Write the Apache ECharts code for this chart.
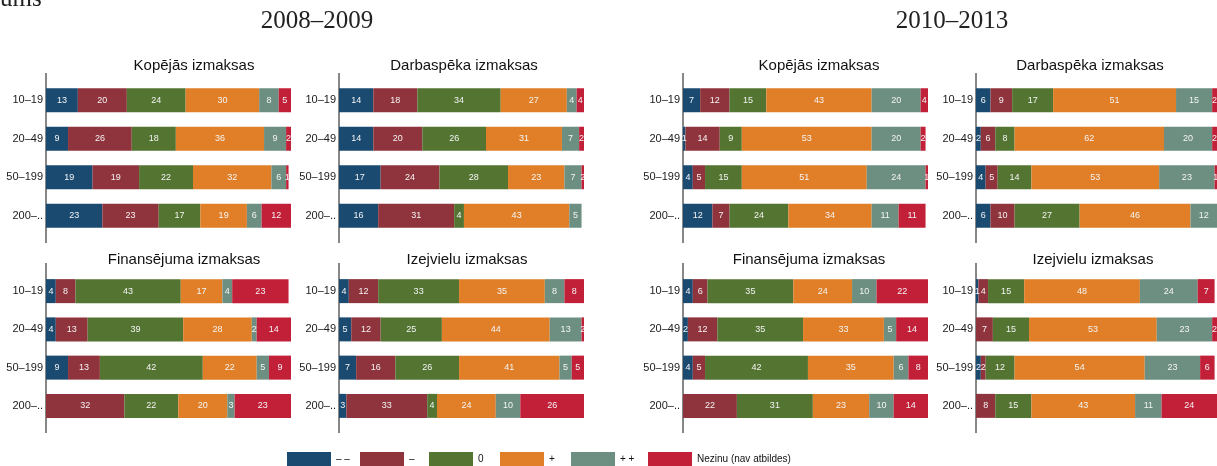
<!DOCTYPE html>
<html>
<head>
<meta charset="utf-8">
<script src="https://cdn.jsdelivr.net/npm/echarts@6/dist/echarts.min.js"></script>
<style>
  html, body { margin: 0; padding: 0; background: #fff; }
  #chart { width: 1217px; height: 466px; }
</style>
</head>
<body>
<div id="chart"></div>
<script>
const sizes = ['10–19', '20–49', '50–199', '200–..']
const answers = ['– –', '–', '0', '+', '+ +', 'Nezinu (nav atbildes)']
const colors = ['#1b4a71', '#8f343c', '#547432', '#e07f28', '#6d8f82', '#c21f38']

// rows = size groups, columns = answers
const kopejas0809 = [[13, 20, 24, 30, 8, 5], [9, 26, 18, 36, 9, 2], [19, 19, 22, 32, 6, 1], [23, 23, 17, 19, 6, 12]]
const darbaspeka0809 = [[14, 18, 34, 27, 4, 4], [14, 20, 26, 31, 7, 2], [17, 24, 28, 23, 7, 2], [16, 31, 4, 43, 5, 0]]
const finansejuma0809 = [[4, 8, 43, 17, 4, 23], [4, 13, 39, 28, 2, 14], [9, 13, 42, 22, 5, 9], [0, 32, 22, 20, 3, 23]]
const izejvielu0809 = [[4, 12, 33, 35, 8, 8], [5, 12, 25, 44, 13, 2], [7, 16, 26, 41, 5, 5], [3, 33, 4, 24, 10, 26]]
const kopejas1013 = [[7, 12, 15, 43, 20, 4], [1, 14, 9, 53, 20, 2], [4, 5, 15, 51, 24, 1], [12, 7, 24, 34, 11, 11]]
const darbaspeka1013 = [[6, 9, 17, 51, 15, 2], [2, 6, 8, 62, 20, 2], [4, 5, 14, 53, 23, 1], [6, 10, 27, 46, 12, 0]]
const finansejuma1013 = [[4, 6, 35, 24, 10, 22], [2, 12, 35, 33, 5, 14], [4, 5, 42, 35, 6, 8], [0, 22, 31, 23, 10, 14]]
const izejvielu1013 = [[1, 4, 15, 48, 24, 7], [0, 7, 15, 53, 23, 2], [2, 2, 12, 54, 23, 6], [0, 8, 15, 43, 11, 24]]

const SANS = 'Liberation Sans, Arial, sans-serif'
const SERIF = 'Liberation Serif, Times New Roman, serif'

// layout of the 8 small panels
const panels = [
  { title: 'Kopējās izmaksas', rows: kopejas0809, left: 46, row: 0, tx: 194 },
  { title: 'Darbaspēka izmaksas', rows: darbaspeka0809, left: 339, row: 0, tx: 464 },
  { title: 'Finansējuma izmaksas', rows: finansejuma0809, left: 46, row: 1, tx: 184 },
  { title: 'Izejvielu izmaksas', rows: izejvielu0809, left: 339, row: 1, tx: 467 },
  { title: 'Kopējās izmaksas', rows: kopejas1013, left: 683, row: 0, tx: 819 },
  { title: 'Darbaspēka izmaksas', rows: darbaspeka1013, left: 976, row: 0, tx: 1090 },
  { title: 'Finansējuma izmaksas', rows: finansejuma1013, left: 683, row: 1, tx: 809 },
  { title: 'Izejvielu izmaksas', rows: izejvielu1013, left: 976, row: 1, tx: 1093 },
]
const rowLayout = [
  { top: 81, height: 154, lineTop: 73, lineBottom: 243, titleY: 66 },
  { top: 272, height: 153, lineTop: 263, lineBottom: 433, titleY: 260 },
]
const legendLeft = [287, 360, 429, 500, 571, 648]

const grid = []
const xAxis = []
const yAxis = []
const series = []
const graphic = [
  { type: 'text', left: 0, top: -13, style: { text: 'ums', font: '25px ' + SERIF, fill: '#222' } },
  { type: 'text', x: 317, y: 21.5, style: { text: '2008–2009', font: '25px ' + SERIF, fill: '#222', align: 'center', verticalAlign: 'middle' } },
  { type: 'text', x: 952, y: 21.5, style: { text: '2010–2013', font: '25px ' + SERIF, fill: '#222', align: 'center', verticalAlign: 'middle' } },
]

panels.forEach((p, i) => {
  const r = rowLayout[p.row]
  grid.push({ left: p.left, width: 245, top: r.top, height: r.height })
  xAxis.push({ gridIndex: i, type: 'value', min: 0, max: 100, show: false })
  yAxis.push({
    gridIndex: i,
    type: 'category',
    data: sizes,
    inverse: true,
    axisLine: { show: false },
    axisTick: { show: false },
    axisLabel: { margin: 3, fontSize: 11, color: '#1a1a1a', fontFamily: SANS },
  })
  answers.forEach((name, k) => {
    series.push({
      type: 'bar',
      name,
      xAxisIndex: i,
      yAxisIndex: i,
      stack: 'panel' + i,
      barWidth: 24,
      itemStyle: { color: colors[k] },
      label: {
        show: true,
        position: 'inside',
        color: '#f4f4f4',
        fontSize: 9,
        fontFamily: SANS,
        formatter: (d) => (d.value > 0 ? d.value : ''),
      },
      data: p.rows.map(row => row[k]),
    })
  })
  graphic.push({
    type: 'line',
    shape: { x1: p.left, y1: r.lineTop, x2: p.left, y2: r.lineBottom },
    style: { stroke: '#111', lineWidth: 1 },
  })
  graphic.push({
    type: 'text',
    x: p.tx,
    y: r.titleY,
    style: { text: p.title, font: '15px ' + SANS, fill: '#111', align: 'center', verticalAlign: 'middle' },
  })
})

const legend = answers.map((name, k) => ({
  data: [name],
  left: legendLeft[k],
  top: 452,
  padding: 0,
  itemWidth: 44,
  itemHeight: 14,
  icon: 'rect',
  selectedMode: false,
  textStyle: { fontSize: 10, color: '#111', fontFamily: SANS },
}))

const chart = echarts.init(document.getElementById('chart'))
chart.setOption({
  animation: false,
  color: colors,
  grid,
  xAxis,
  yAxis,
  series,
  legend,
  graphic,
})
</script>
</body>
</html>
